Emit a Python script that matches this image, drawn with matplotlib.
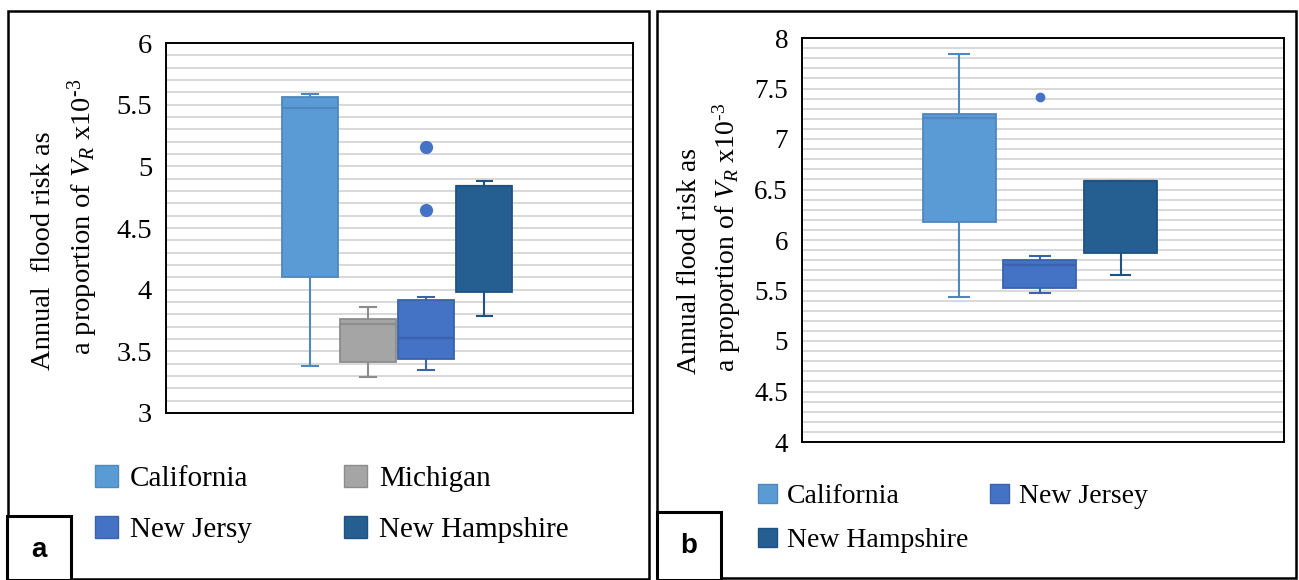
import matplotlib
matplotlib.use("Agg")
import matplotlib.pyplot as plt
from matplotlib.patches import Patch, Rectangle
import numpy as np

# panel a: four states
states_a = ["California", "Michigan", "New Jersy", "New Hampshire"]
whislo_a = [3.38, 3.29, 3.35, 3.79]
q1_a = [4.10, 3.41, 3.44, 3.98]
med_a = [5.47, 3.72, 3.61, 4.84]
q3_a = [5.56, 3.76, 3.92, 4.84]
whishi_a = [5.59, 3.86, 3.94, 4.88]
fliers_a = [[], [], [5.16, 4.65], []]

# panel b: three states
states_b = ["California", "New Jersey", "New Hampshire"]
whislo_b = [5.44, 5.48, 5.65]
q1_b = [6.18, 5.52, 5.87]
med_b = [7.21, 5.75, 6.58]
q3_b = [7.25, 5.80, 6.58]
whishi_b = [7.84, 5.84, 6.58]
fliers_b = [[], [7.42], []]

yticks_a = [3, 3.5, 4, 4.5, 5, 5.5, 6]
yticks_b = [4, 4.5, 5, 5.5, 6, 6.5, 7, 7.5, 8]

colors = {"California": "#5B9BD5", "Michigan": "#A5A5A5",
          "New Jersy": "#4472C4", "New Jersey": "#4472C4",
          "New Hampshire": "#255E91"}
edges = {"California": "#4E88BE", "Michigan": "#8C8C8C",
         "New Jersy": "#3A62AE", "New Jersey": "#3A62AE",
         "New Hampshire": "#1F5282"}

plt.rcParams["font.family"] = ["Liberation Serif", "DejaVu Serif"]
plt.rcParams["mathtext.fontset"] = "custom"
plt.rcParams["mathtext.rm"] = "Liberation Serif"
plt.rcParams["mathtext.it"] = "Liberation Serif:italic"

W, H = 1299, 580
fig = plt.figure(figsize=(W / 100, H / 100), dpi=100)


def px_rect(x0, y0, x1, y1):
    # pixel box (top-left origin) -> figure fraction rect
    return [x0 / W, 1 - y1 / H, (x1 - x0) / W, (y1 - y0) / H]


def draw_panel(ax, states, lo, q1, med, q3, hi, fliers, yticks,
               center, step, width, capw, msize, tfs):
    n = len(states)
    pos = [center + (i - (n - 1) / 2) * step for i in range(n)]
    stats = []
    for i, s in enumerate(states):
        stats.append(dict(label=s, whislo=lo[i], q1=q1[i], med=med[i],
                          q3=q3[i], whishi=hi[i], fliers=fliers[i]))
    bp = ax.bxp(stats, positions=pos, widths=width, patch_artist=True,
                showfliers=True, capwidths=capw, manage_ticks=False)
    for i, s in enumerate(states):
        bp["boxes"][i].set(facecolor=colors[s], edgecolor=edges[s], linewidth=1.3, zorder=3)
        bp["medians"][i].set(color=edges[s], linewidth=1.6, zorder=4)
        for k in (2 * i, 2 * i + 1):
            bp["whiskers"][k].set(color=edges[s], linewidth=1.5, zorder=2)
            bp["caps"][k].set(color=edges[s], linewidth=1.5, zorder=2)
        bp["fliers"][i].set(marker="o", markerfacecolor=colors[s],
                            markeredgecolor=colors[s], markersize=msize)
    ax.set_xlim(0, 1)
    ax.set_ylim(yticks[0], yticks[-1])
    ax.set_xticks([])
    ax.set_yticks(yticks)
    ax.set_yticklabels([f"{t:g}" for t in yticks], fontsize=tfs)
    ax.set_yticks(np.arange(yticks[0], yticks[-1] + 1e-9, 0.1), minor=True)
    ax.tick_params(axis="y", which="both", length=0, pad=10)
    ax.grid(axis="y", which="both", color="#D8D8D8", linewidth=1.4, zorder=0)
    ax.set_axisbelow(True)
    for sp in ax.spines.values():
        sp.set_color("black")
        sp.set_linewidth(1.4)


# panel frames
fig.add_artist(Rectangle((8 / W, 1 - 579 / H), (649 - 8) / W, (579 - 11) / H,
                         transform=fig.transFigure, fill=False, edgecolor="black", linewidth=1.8))
fig.add_artist(Rectangle((657 / W, 1 - 578 / H), (1296 - 657) / W, (578 - 11) / H,
                         transform=fig.transFigure, fill=False, edgecolor="black", linewidth=1.8))

ax_a = fig.add_axes(px_rect(166, 43, 633, 413))
draw_panel(ax_a, states_a, whislo_a, q1_a, med_a, q3_a, whishi_a, fliers_a, yticks_a,
           center=0.4955, step=0.1243, width=0.12, capw=0.034, msize=8.5, tfs=20.5)

ax_b = fig.add_axes(px_rect(802, 38, 1284, 442))
draw_panel(ax_b, states_b, whislo_b, q1_b, med_b, q3_b, whishi_b, fliers_b, yticks_b,
           center=0.4935, step=0.1675, width=0.152, capw=0.041, msize=6, tfs=19.5)

# y labels (two lines each)
vr_line = r"a proportion of $V_R$ x10$^{\text{-3}}$"
fig.text(44 / W, 1 - 251 / H, "Annual  flood risk as", rotation=90, ha="center", va="center", fontsize=20.5)
fig.text(83 / W, 1 - 217 / H, vr_line, rotation=90, ha="center", va="center", fontsize=20.5)
fig.text(690 / W, 1 - 261 / H, "Annual flood risk as", rotation=90, ha="center", va="center", fontsize=20)
fig.text(727 / W, 1 - 237 / H, vr_line, rotation=90, ha="center", va="center", fontsize=20)

# legends
order_a = ["California", "New Jersy", "Michigan", "New Hampshire"]
fig.legend(handles=[Patch(facecolor=colors[s], edgecolor=edges[s], label=s) for s in order_a],
           loc="upper left", bbox_to_anchor=(95 / W, 1 - 465 / H), ncol=2, frameon=False,
           fontsize=21, handlelength=0.79, handleheight=0.79, handletextpad=0.41,
           columnspacing=3.15, labelspacing=0.8, borderpad=0, borderaxespad=0)

order_b = ["California", "New Hampshire", "New Jersey"]
fig.legend(handles=[Patch(facecolor=colors[s], edgecolor=edges[s], label=s) for s in order_b],
           loc="upper left", bbox_to_anchor=(758 / W, 1 - 484 / H), ncol=2, frameon=False,
           fontsize=20, handlelength=0.68, handleheight=0.68, handletextpad=0.36,
           columnspacing=0.79, labelspacing=0.68, borderpad=0, borderaxespad=0)

# panel letters
for (x0, y0, x1, lab) in [(7, 516, 71, "a"), (657, 512, 721, "b")]:
    fig.add_artist(Rectangle((x0 / W, 0), (x1 - x0) / W, 1 - y0 / H, transform=fig.transFigure,
                             facecolor="white", edgecolor="black", linewidth=2.2, zorder=5))
    fig.text((x0 + x1) / 2 / W, 1 - (y0 + 34) / H, lab, ha="center", va="center",
             fontsize=20, fontweight="bold", family=["Liberation Sans", "DejaVu Sans"], zorder=6)

fig.savefig("out.png", dpi=100)
